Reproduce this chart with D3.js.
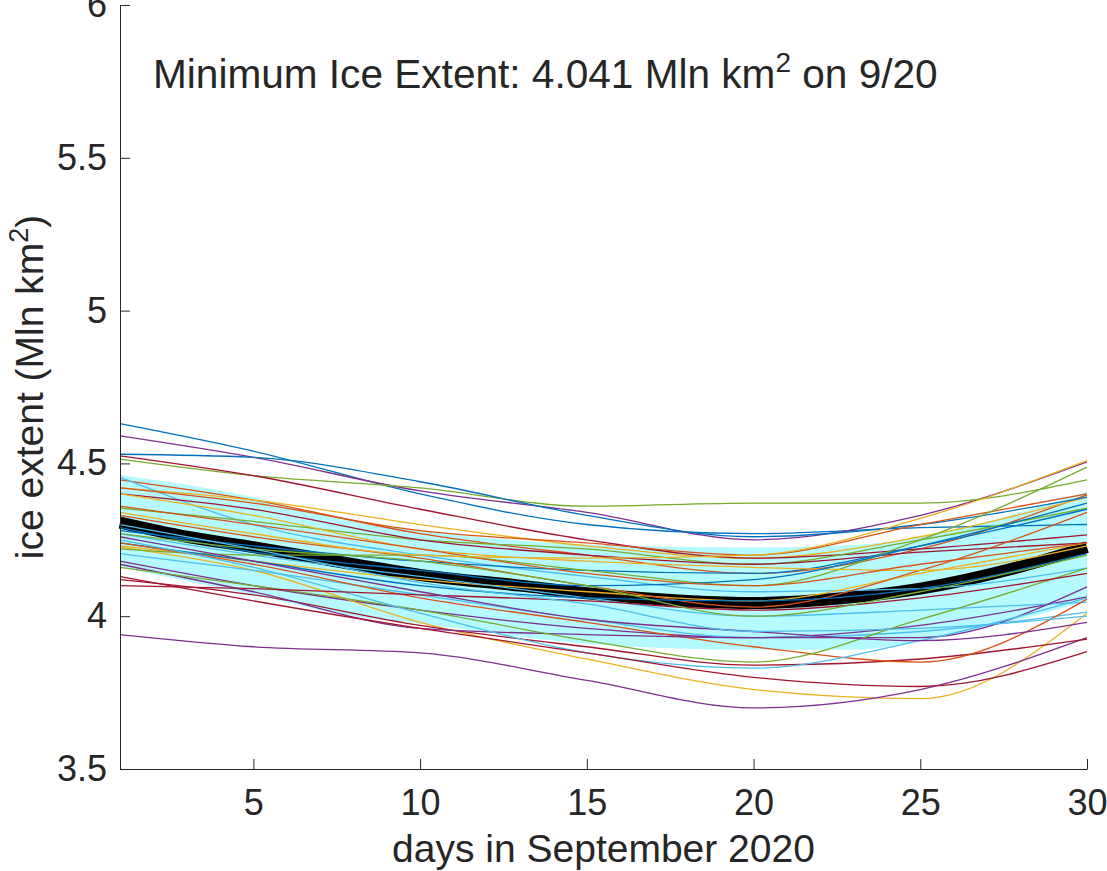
<!DOCTYPE html>
<html>
<head>
    <meta charset="utf-8">
    <title>Ice extent September 2020</title>
    <script src="https://d3js.org/d3.v7.min.js"></script>
    <style>
        body { margin: 0; background: #fff; }
        svg text { font-family: "Liberation Sans", Arial, Helvetica, sans-serif; fill: #262626; }
        .axis path, .axis line { stroke: #262626; stroke-width: 1; }
        .axis text { font-size: 36px; fill: #262626; }
    </style>
</head>
<body>
    <script>
        // sample days used for every series
        var days = [1, 5, 10, 15, 20, 25, 30];

        // ensemble members, colour follows plot order (blue, orange, yellow, purple, green, light blue, red)
        var member01 = [4.63, 4.54, 4.40, 4.30, 4.27, 4.29, 4.30];
        var member02 = [4.446, 4.38, 4.27, 4.20, 4.14, 4.22, 4.397];
        var member03 = [4.42, 4.38, 4.30, 4.23, 4.19, 4.26, 4.39];
        var member04 = [4.59, 4.52, 4.41, 4.34, 4.25, 4.33, 4.505];
        var member05 = [4.514, 4.46, 4.42, 4.36, 4.37, 4.37, 4.446];
        var member06 = [4.455, 4.30, 4.20, 4.13, 4.08, 4.09, 4.157];
        var member07 = [4.525, 4.46, 4.35, 4.25, 4.19, 4.22, 4.266];
        var member08 = [4.53, 4.52, 4.44, 4.33, 4.26, 4.30, 4.39];
        var member09 = [4.42, 4.37, 4.28, 4.24, 4.20, 4.30, 4.40];
        var member10 = [4.23, 4.18, 4.12, 4.08, 4.05, 4.14, 4.24];
        var member11 = [4.18, 4.10, 4.02, 3.96, 3.93, 3.97, 4.063];
        var member12 = [4.354, 4.31, 4.25, 4.22, 4.17, 4.25, 4.354];
        var member13 = [4.27, 4.20, 4.13, 4.06, 4.00, 4.02, 4.046];
        var member14 = [4.40, 4.35, 4.25, 4.20, 4.17, 4.21, 4.24];
        var member15 = [4.28, 4.23, 4.18, 4.15, 4.14, 4.23, 4.35];
        var member16 = [4.33, 4.26, 4.19, 4.10, 4.03, 4.15, 4.34];
        var member17 = [4.226, 4.15, 3.98, 3.86, 3.76, 3.73, 4.01];
        var member18 = [3.94, 3.90, 3.88, 3.79, 3.70, 3.76, 3.93];
        var member19 = [4.22, 4.20, 4.20, 4.15, 4.10, 4.25, 4.488];
        var member20 = [4.205, 4.15, 4.07, 3.99, 3.93, 3.95, 4.013];
        var member21 = [4.12, 4.07, 3.97, 3.90, 3.84, 3.86, 3.925];
        var member22 = [4.24, 4.18, 4.10, 4.06, 4.05, 4.09, 4.205];
        var member23 = [4.24, 4.17, 4.06, 3.98, 3.90, 3.85, 4.056];
        var member24 = [4.40, 4.33, 4.22, 4.18, 4.16, 4.15, 4.23];
        var member25 = [4.17, 4.08, 3.96, 3.94, 3.93, 3.93, 4.096];
        var member26 = [4.16, 4.10, 4.02, 3.92, 3.85, 3.99, 4.157];
        var member27 = [4.25, 4.16, 4.01, 3.88, 3.83, 3.92, 4.06];
        var member28 = [4.10, 4.09, 4.07, 4.05, 4.02, 4.06, 4.14];
        var member29 = [4.29, 4.21, 4.15, 4.10, 4.12, 4.23, 4.37];
        var member30 = [4.36, 4.30, 4.22, 4.14, 4.10, 4.17, 4.24];
        var member31 = [4.34, 4.27, 4.20, 4.19, 4.20, 4.32, 4.509];
        var member32 = [4.26, 4.18, 4.08, 3.99, 3.95, 3.92, 3.98];
        var member33 = [4.27, 4.22, 4.18, 4.10, 4.00, 4.08, 4.20];
        var member34 = [4.30, 4.22, 4.11, 4.04, 3.95, 3.96, 4.00];
        var member35 = [4.13, 4.05, 3.96, 3.88, 3.80, 3.77, 3.884];

        var members = [member01, member02, member03, member04, member05, member06, member07,
                       member08, member09, member10, member11, member12, member13, member14,
                       member15, member16, member17, member18, member19, member20, member21,
                       member22, member23, member24, member25, member26, member27, member28,
                       member29, member30, member31, member32, member33, member34, member35];

        // shaded spread band
        var bandDays  = [1, 5, 8, 10, 15, 20, 23, 25, 28, 30];
        var bandUpper = [4.462, 4.39, 4.31, 4.28, 4.235, 4.225, 4.233, 4.26, 4.34, 4.407];
        var bandLower = [4.16, 4.07, 4.00, 3.975, 3.91, 3.89, 3.89, 3.92, 3.99, 4.05];

        // thick black forecast line
        var meanDays   = [1, 3, 5, 8, 10, 13, 15, 18, 20, 22, 25, 28, 30];
        var meanValues = [4.306, 4.26, 4.226, 4.17, 4.135, 4.10, 4.075, 4.05, 4.043, 4.053, 4.09, 4.162, 4.226];

        var xTicks = [5, 10, 15, 20, 25, 30];
        var yTicks = [3.5, 4, 4.5, 5, 5.5, 6];

        var palette = ["#0072BD", "#D95319", "#EDB120", "#7E2F8E", "#77AC30", "#4DBEEE", "#A2142F"];

        var W = 1107, H = 871;
        var margin = {top: 5, right: 20, bottom: 102, left: 120};
        var width = W - margin.left - margin.right,
            height = H - margin.top - margin.bottom;

        var x = d3.scaleLinear().domain([1, 30]).range([0, width]);
        var y = d3.scaleLinear().domain([3.5, 6]).range([height, 0]);

        var svg = d3.select("body").append("svg")
            .attr("width", W)
            .attr("height", H)
        .append("g")
            .attr("transform", "translate(" + margin.left + "," + margin.top + ")");

        // band
        var area = d3.area()
            .x(function(d, i) { return x(bandDays[i]); })
            .y0(function(d, i) { return y(bandLower[i]); })
            .y1(function(d, i) { return y(bandUpper[i]); })
            .curve(d3.curveMonotoneX);
        svg.append("path")
            .datum(bandDays)
            .attr("fill", "#b5fafe")
            .attr("d", area);

        // black line
        var meanLine = d3.line()
            .x(function(d, i) { return x(meanDays[i]); })
            .y(function(d) { return y(d); })
            .curve(d3.curveMonotoneX);
        svg.append("path")
            .datum(meanValues)
            .attr("fill", "none")
            .attr("stroke", "#000")
            .attr("stroke-width", 12)
            .attr("stroke-linejoin", "round")
            .attr("d", meanLine);

        // members
        var line = d3.line()
            .x(function(d, i) { return x(days[i]); })
            .y(function(d) { return y(d); })
            .curve(d3.curveMonotoneX);
        svg.selectAll(".member")
            .data(members)
            .enter().append("path")
            .attr("class", "member")
            .attr("fill", "none")
            .attr("stroke", function(d, i) { return palette[i % palette.length]; })
            .attr("stroke-width", 1.3)
            .attr("d", line);

        // axes, ticks point inwards like matlab
        svg.append("g")
            .attr("class", "axis")
            .attr("transform", "translate(0," + height + ")")
            .call(d3.axisBottom(x).tickValues(xTicks).tickSizeInner(-10).tickSizeOuter(0).tickPadding(20));

        svg.append("g")
            .attr("class", "axis")
            .call(d3.axisLeft(y).tickValues(yTicks).tickSizeInner(-10).tickSizeOuter(0).tickPadding(13)
                .tickFormat(function(d) { return String(d); }));

        // axis labels
        svg.append("text")
            .attr("x", width / 2)
            .attr("y", height + 93)
            .attr("text-anchor", "middle")
            .style("font-size", "39px")
            .text("days in September 2020");

        var ylab = svg.append("text")
            .attr("transform", "translate(" + (43 - margin.left) + "," + (height / 2) + ") rotate(-90)")
            .attr("text-anchor", "middle")
            .style("font-size", "39px");
        ylab.append("tspan").text("ice extent (Mln km");
        ylab.append("tspan").attr("dy", -15).style("font-size", "27px").text("2");
        ylab.append("tspan").attr("dy", 15).text(")");

        // annotation
        var note = svg.append("text")
            .attr("x", 153 - margin.left)
            .attr("y", 88 - margin.top)
            .style("font-size", "40.6px");
        note.append("tspan").text("Minimum Ice Extent: 4.041 Mln km");
        note.append("tspan").attr("dy", -16).style("font-size", "28px").text("2");
        note.append("tspan").attr("dy", 16).text(" on 9/20");
    </script>
</body>
</html>
